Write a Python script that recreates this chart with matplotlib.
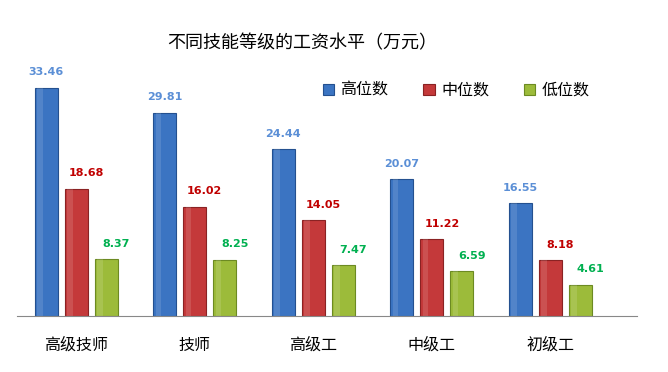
import matplotlib.pyplot as plt
import numpy as np
from matplotlib.patches import Rectangle

plt.rcParams['font.family'] = ['Noto Sans CJK SC', 'DejaVu Sans']

categories = ['高级技师', '技师', '高级工', '中级工', '初级工']
series_names = ['高位数', '中位数', '低位数']
high = [33.46, 29.81, 24.44, 20.07, 16.55]
mid = [18.68, 16.02, 14.05, 11.22, 8.18]
low = [8.37, 8.25, 7.47, 6.59, 4.61]

bar_colors = ['#3b74c2', '#c4393a', '#9cbb3a']
edge_colors = ['#24508f', '#8a2223', '#6c8a22']
label_colors = ['#5b8fd6', '#c00000', '#00b050']
label_shift = [0.0, 0.084, 0.084]

fig = plt.figure(figsize=(6.68, 3.72), dpi=100)
ax = fig.add_axes([17 / 668, 56 / 372, 620 / 668, 273 / 372])

x = np.arange(len(categories))
width = 0.195
step = 0.253

for i, (vals, name) in enumerate(zip([high, mid, low], series_names)):
    pos = x + (i - 1) * step
    bars = ax.bar(pos, vals, width, color=bar_colors[i], edgecolor=edge_colors[i],
                  linewidth=0.8, label=name)
    # light highlight strip on the left of each bar
    for b in bars:
        ax.add_patch(Rectangle((b.get_x() + b.get_width() * 0.1, 0), b.get_width() * 0.25,
                               b.get_height(), color='white', alpha=0.12, linewidth=0))
    for p, v in zip(pos, vals):
        ax.text(p + label_shift[i], v + 1.5, f'{v:.2f}', ha='center', va='bottom', fontsize=8,
                fontweight='bold', color=label_colors[i], family=['DejaVu Sans'])

ax.set_xlim(-0.5, 4.73)
ax.set_ylim(0, 40)
ax.set_xticks(x + 0.0, categories, fontsize=11.5)
ax.tick_params(axis='x', length=0, pad=15)
ax.set_yticks([])
for s in ['top', 'right', 'left']:
    ax.spines[s].set_visible(False)
ax.spines['bottom'].set_color('#888888')

fig.text(0.452, 0.885, '不同技能等级的工资水平（万元）', ha='center', va='center', fontsize=13)

ax.legend(loc='upper left', bbox_to_anchor=(0.47, 0.91), ncols=3, frameon=False,
          fontsize=11.5, handlelength=0.7, handleheight=0.7, columnspacing=2.2,
          handletextpad=0.4)

fig.savefig('out.png', dpi=100)
